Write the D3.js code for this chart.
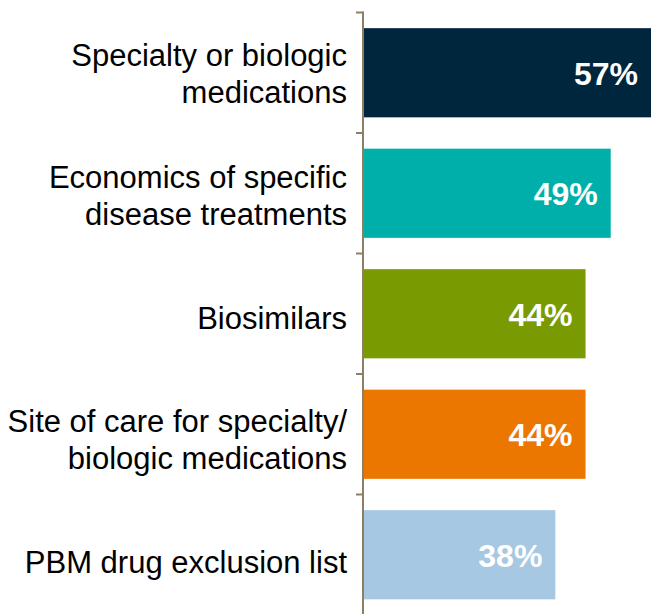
<!DOCTYPE html>
<html>
<head>
<meta charset="utf-8">
<script src="https://cdn.jsdelivr.net/npm/d3@7"></script>
<style>
  body { margin: 0; background: #fff; }
  svg { display: block; font-family: Arial, "Liberation Sans", sans-serif; }
</style>
</head>
<body>
<svg id="chart"></svg>
<script>
// data
const categories = [
    ['Specialty or biologic', 'medications'],
    ['Economics of specific', 'disease treatments'],
    ['Biosimilars'],
    ['Site of care for specialty/', 'biologic medications'],
    ['PBM drug exclusion list']
];
const values = [57, 49, 44, 44, 38];
const colors = ['#00263e', '#00afaa', '#7a9a01', '#ec7700', '#a6c8e2'];

const width = 654, height = 614;
const axis_x = 363;

const svg = d3.select('#chart')
    .attr('width', width)
    .attr('height', height);

const keys = categories.map((c, i) => i);

const y = d3.scaleBand()
    .domain(keys)
    .range([12.5, 615])
    .paddingInner(0.26)
    .paddingOuter(0.13);

// labels sit on a slightly wider spacing than the bars
const y_label = d3.scalePoint()
    .domain(keys)
    .range([73.5, 561.5]);

const x = d3.scaleLinear()
    .domain([0, 57])
    .range([axis_x + 1, 651]);

// bars
svg.selectAll('rect.bar')
    .data(values)
    .enter()
    .append('rect')
    .attr('class', 'bar')
    .attr('x', x(0))
    .attr('y', (d, i) => y(i))
    .attr('width', d => x(d) - x(0))
    .attr('height', y.bandwidth())
    .attr('fill', (d, i) => colors[i]);

// value labels
svg.selectAll('text.value')
    .data(values)
    .enter()
    .append('text')
    .attr('class', 'value')
    .attr('x', d => x(d) - 13)
    .attr('y', (d, i) => y(i) + y.bandwidth() / 2 + 12)
    .attr('text-anchor', 'end')
    .attr('fill', '#fff')
    .style('font-size', '32px')
    .style('font-weight', 'bold')
    .text(d => d + '%');

// axis line with ticks between categories
const step = y.step();
const bounds = keys.map(i => y(i) - step * y.paddingInner() / 2);
bounds.push(bounds[bounds.length - 1] + step);

const axis = svg.append('g')
    .attr('stroke', '#8c7f64')
    .attr('stroke-width', 2);
axis.append('line')
    .attr('x1', axis_x).attr('x2', axis_x)
    .attr('y1', bounds[0] - 1).attr('y2', height);
axis.selectAll('line.tick')
    .data(bounds)
    .enter()
    .append('line')
    .attr('class', 'tick')
    .attr('x1', axis_x - 7).attr('x2', axis_x)
    .attr('y1', d => d).attr('y2', d => d);

// category labels
const line_h = 37.5;
const labels = svg.selectAll('text.cat')
    .data(categories)
    .enter()
    .append('text')
    .attr('class', 'cat')
    .attr('text-anchor', 'end')
    .attr('fill', '#000')
    .style('font-size', '31px');

labels.each(function (lines, i) {
    const cy = y_label(i);
    const top = cy - (lines.length - 1) * line_h / 2 + 11;
    d3.select(this).selectAll('tspan')
        .data(lines)
        .enter()
        .append('tspan')
        .attr('x', 347)
        .attr('y', (d, j) => top + j * line_h)
        .text(d => d);
});
</script>
</body>
</html>
